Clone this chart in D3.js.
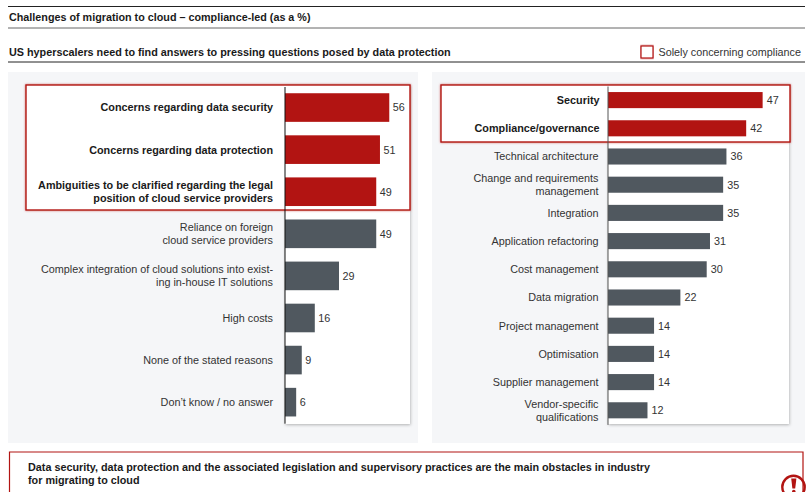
<!DOCTYPE html>
<html>
<head>
<meta charset="utf-8">
<style>
  html, body { margin: 0; padding: 0; background: #fff; }
  svg { display: block; font-family: "Liberation Sans", Arial, sans-serif; }
</style>
<script src="https://cdnjs.cloudflare.com/ajax/libs/d3/7.8.5/d3.min.js"></script>
</head>
<body>
<svg id="chart" width="807" height="492"></svg>
<script>
// Survey responses: left panel, challenges of migrating to cloud
const leftCategories = [
  "Concerns regarding data security",
  "Concerns regarding data protection",
  "Ambiguities to be clarified regarding the legal\nposition of cloud service providers",
  "Reliance on foreign\ncloud service providers",
  "Complex integration of cloud solutions into exist-\ning in-house IT solutions",
  "High costs",
  "None of the stated reasons",
  "Don’t know / no answer"
];
const leftValues = [56, 51, 49, 49, 29, 16, 9, 6];
const leftHighlighted = 3;

// Right panel: questions posed to hyperscalers
const rightCategories = [
  "Security",
  "Compliance/governance",
  "Technical architecture",
  "Change and requirements\nmanagement",
  "Integration",
  "Application refactoring",
  "Cost management",
  "Data migration",
  "Project management",
  "Optimisation",
  "Supplier management",
  "Vendor-specific\nqualifications"
];
const rightValues = [47, 42, 36, 35, 35, 31, 30, 22, 14, 14, 14, 12];
const rightHighlighted = 2;

const RED = "#b21412";
const SLATE = "#50585f";
const INK = "#1a1a1a";
const svg = d3.select("#chart");

const defs = svg.append("defs");
const shadow = defs.append("filter").attr("id", "soft")
  .attr("x", "-5%").attr("y", "-5%").attr("width", "110%").attr("height", "110%");
shadow.append("feDropShadow").attr("dx", 0.5).attr("dy", 1)
  .attr("stdDeviation", 1.5).attr("flood-color", "#000").attr("flood-opacity", 0.28);
const glow = defs.append("filter").attr("id", "glow")
  .attr("x", "-5%").attr("y", "-10%").attr("width", "110%").attr("height", "120%");
glow.append("feDropShadow").attr("dx", 0).attr("dy", 0)
  .attr("stdDeviation", 1).attr("flood-color", RED).attr("flood-opacity", 0.55);

function rule(y, color, width) {
  svg.append("line").attr("x1", 8).attr("x2", 805).attr("y1", y).attr("y2", y)
    .attr("stroke", color).attr("stroke-width", width);
}
rule(6.5, "#222", 1);
rule(28, "#666", 1);
rule(62, "#222", 1);

svg.append("text").attr("x", 9).attr("y", 21)
  .attr("font-size", 10.78).attr("font-weight", 700).attr("fill", INK)
  .text("Challenges of migration to cloud – compliance-led (as a %)");
svg.append("text").attr("x", 9).attr("y", 56)
  .attr("font-size", 10.8).attr("font-weight", 700).attr("fill", INK)
  .text("US hyperscalers need to find answers to pressing questions posed by data protection");

// Legend
svg.append("rect").attr("x", 641).attr("y", 46).attr("width", 12).attr("height", 12)
  .attr("fill", "#fff").attr("stroke", RED).attr("stroke-width", 1.2).attr("filter", "url(#glow)");
svg.append("text").attr("x", 658.5).attr("y", 56)
  .attr("font-size", 10.78).attr("fill", "#333").text("Solely concerning compliance");

function panel(opts) {
  const { bg, plot, categories, values, highlighted, box, scaleK, inner, outer, labelGap, valueGap, fontSize } = opts;
  const g = svg.append("g");
  g.append("rect").attr("x", bg[0]).attr("y", 72).attr("width", bg[1] - bg[0]).attr("height", 371)
    .attr("fill", "#f5f6f8");
  g.append("rect").attr("x", plot[0]).attr("y", 85).attr("width", plot[1] - plot[0]).attr("height", 339)
    .attr("fill", "#fff").attr("filter", "url(#soft)");

  const x = d3.scaleLinear().domain([0, 1]).range([plot[0], plot[0] + scaleK]);
  const y = d3.scaleBand().domain(categories).range(opts.yRange)
    .paddingInner(inner).paddingOuter(outer);
  const rows = categories.map((c, i) => ({ c, v: values[i], i }));

  // Highlight frame sits under the bars and around the leading rows
  g.append("rect").attr("x", box[0]).attr("y", box[1]).attr("width", box[2] - box[0]).attr("height", box[3] - box[1])
    .attr("fill", "#fff").attr("stroke", RED).attr("stroke-width", 1.4).attr("filter", "url(#glow)");

  g.selectAll("rect.bar").data(rows).join("rect").attr("class", "bar")
    .attr("x", x(0)).attr("y", d => y(d.c))
    .attr("width", d => x(d.v) - x(0)).attr("height", y.bandwidth())
    .attr("fill", d => d.i < highlighted ? RED : SLATE);

  g.selectAll("text.value").data(rows).join("text").attr("class", "value")
    .attr("x", d => x(d.v) + valueGap)
    .attr("y", d => y(d.c) + y.bandwidth() / 2 + 3.9)
    .attr("font-size", 10.8).attr("fill", "#333")
    .text(d => d.v);

  // Category axis: the domain line is the bar baseline, tick text carries wrapped labels
  const axis = g.append("g").attr("transform", `translate(${x(0) - 0.5},0)`)
    .call(d3.axisLeft(y).tickSize(0).tickPadding(labelGap).tickFormat(""));
  axis.select(".domain").attr("stroke", opts.axisColor).attr("stroke-width", 1);
  axis.selectAll(".tick text").each(function (c) {
    const i = categories.indexOf(c);
    const lines = c.split("\n");
    const t = d3.select(this)
      .attr("font-family", "'Liberation Sans', Arial, sans-serif")
      .attr("font-size", fontSize)
      .attr("font-weight", i < highlighted ? 700 : 400)
      .attr("fill", i < highlighted ? INK : "#333")
      .attr("dy", null);
    t.selectAll("tspan").data(lines).join("tspan")
      .attr("x", i < highlighted ? -labelGap : -labelGap - opts.plainInset)
      .attr("y", (d, k) => (k - (lines.length - 1) / 2) * 13 + 3.9)
      .text(d => d);
  });
}

panel({
  bg: [8, 418], plot: [285, 410],
  categories: leftCategories, values: leftValues, highlighted: leftHighlighted,
  box: [26, 85, 410, 210],
  scaleK: 1.862, inner: 0.32, outer: 0.16, yRange: [86.5, 423.2],
  labelGap: 11.5, plainInset: 0, valueGap: 3.5, fontSize: 10.82, axisColor: "#111"
});

panel({
  bg: [432, 805], plot: [608, 789],
  categories: rightCategories, values: rightValues, highlighted: rightHighlighted,
  box: [441, 85, 790, 142],
  scaleK: 3.29, inner: 0.43, outer: 0.215, yRange: [86, 424.4],
  labelGap: 8, plainInset: 1, valueGap: 4, fontSize: 10.82, axisColor: "#555"
});

// Exclamation mark badge, clipped by the takeaway box's right edge
svg.append("circle").attr("cx", 793.5).attr("cy", 487).attr("r", 11.2)
  .attr("fill", "#fff").attr("stroke", RED).attr("stroke-width", 2.4);
svg.append("path").attr("d", "M791.2 478.5H796.4L795.2 488.5H792.4Z").attr("fill", RED);
svg.append("circle").attr("cx", 793.8).attr("cy", 491.5).attr("r", 1.8).attr("fill", RED);

// Takeaway box, running off the lower edge of the page
svg.append("path").attr("d", "M9.5 492V452H803V492")
  .attr("fill", "none").attr("stroke", RED).attr("stroke-width", 1.2);
const note = svg.append("text").attr("font-size", 10.8).attr("font-weight", 700).attr("fill", INK);
note.append("tspan").attr("x", 28).attr("y", 471)
  .text("Data security, data protection and the associated legislation and supervisory practices are the main obstacles in industry");
note.append("tspan").attr("x", 28).attr("y", 484).text("for migrating to cloud");
</script>
</body>
</html>
